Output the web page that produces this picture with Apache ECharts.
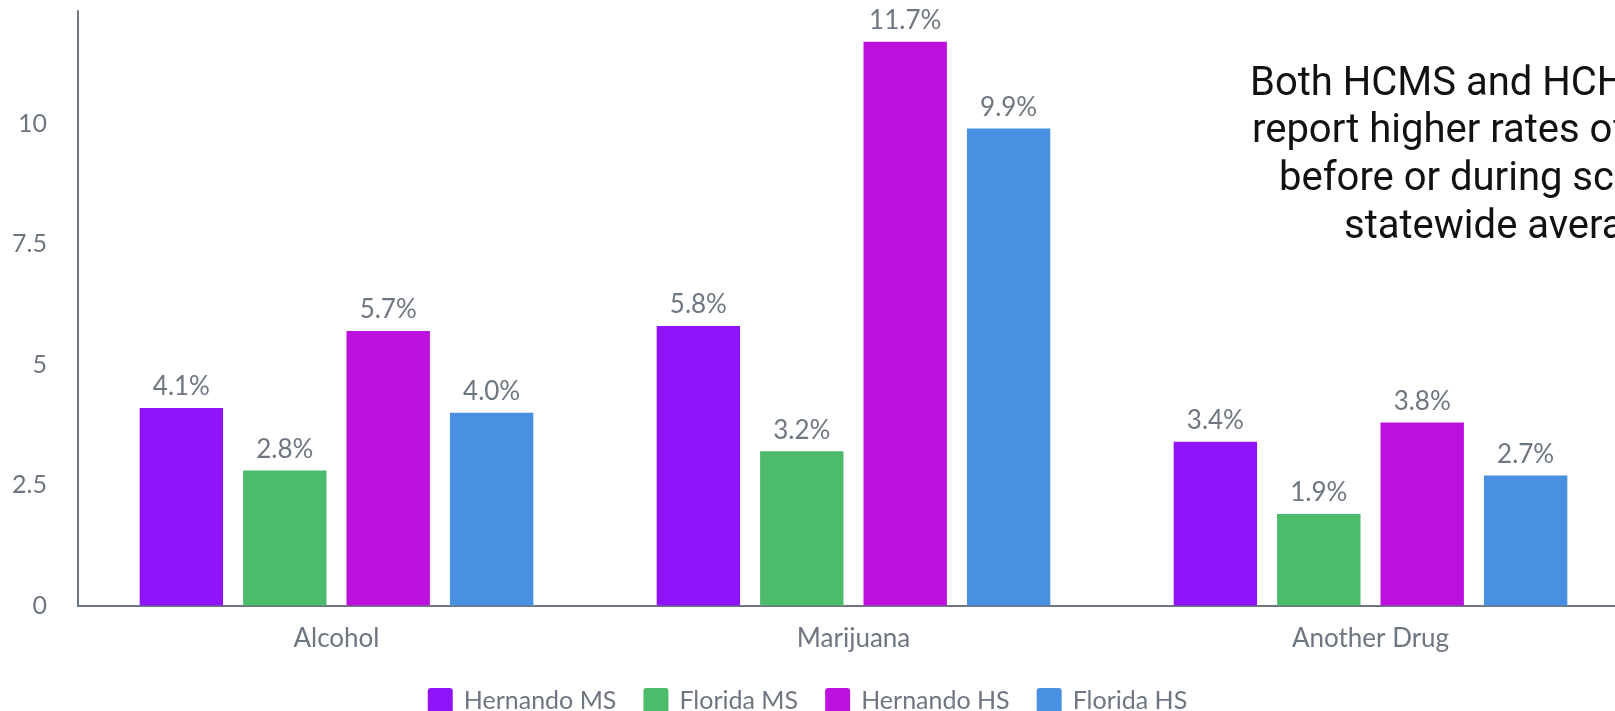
<!DOCTYPE html>
<html>
<head>
<meta charset="utf-8">
<script src="https://cdn.jsdelivr.net/npm/echarts@6/dist/echarts.min.js"></script>
<style>
  html, body { margin: 0; padding: 0; background: #ffffff; }
  #chart { width: 1615px; height: 711px; }
</style>
</head>
<body>
<div id="chart"></div>
<script>
const categories = ['Alcohol', 'Marijuana', 'Another Drug'];
const seriesNames = ['Hernando MS', 'Florida MS', 'Hernando HS', 'Florida HS'];
const hernandoMS = [4.1, 5.8, 3.4];
const floridaMS = [2.8, 3.2, 1.9];
const hernandoHS = [5.7, 11.7, 3.8];
const floridaHS = [4.0, 9.9, 2.7];
const colors = ['#8F14FB', '#4CBB6C', '#BC10DE', '#4A90E2'];
const annotationLines = [
  'Both HCMS and HCHS students',
  'report higher rates of drug use',
  'before or during school than the',
  'statewide average.'
];

const gray = '#6E7681';
const font = 'Lato';
const values = [hernandoMS, floridaMS, hernandoHS, floridaHS];
const iconPath = 'path://M3,0 H22 Q25,0 25,3 V22 Q25,25 22,25 H3 Q0,25 0,22 V3 Q0,0 3,0 Z';

const chart = echarts.init(document.getElementById('chart'), null, { renderer: 'canvas' });

const annX = [1250, 1252, 1279, 1344];
const annBase = [103, 150, 198, 246];

chart.setOption({
  animation: false,
  backgroundColor: '#ffffff',
  color: colors,
  grid: { left: 78, width: 1551, top: 11, height: 594.5, containLabel: false, outerBoundsMode: 'none' },
  legend: {
    top: 683,
    left: 'center',
    itemWidth: 25,
    itemHeight: 25,
    itemGap: 27,
    icon: iconPath,
    data: seriesNames,
    textStyle: { color: gray, fontFamily: font, fontSize: 25, padding: [0, 0, 0, 6] }
  },
  xAxis: {
    type: 'category',
    data: categories,
    axisLine: { show: true, lineStyle: { color: gray, width: 2 } },
    axisTick: { show: false },
    axisLabel: { color: gray, fontFamily: font, fontSize: 26, margin: 20 },
    splitLine: { show: false }
  },
  yAxis: {
    type: 'value',
    min: 0,
    max: 12.34,
    interval: 2.5,
    axisLine: { show: true, lineStyle: { color: gray, width: 2 } },
    axisTick: { show: false },
    splitLine: { show: false },
    axisLabel: { color: gray, fontFamily: font, fontSize: 25, margin: 31, showMaxLabel: false }
  },
  series: seriesNames.map((name, i) => ({
    name: name,
    type: 'bar',
    data: values[i],
    barWidth: 83.4,
    barGap: '24%',
    itemStyle: { color: colors[i] },
    label: {
      show: true,
      position: 'top',
      distance: 8,
      color: gray,
      fontFamily: font,
      fontSize: 26,
      formatter: p => p.value.toFixed(1) + '%'
    }
  })),
  graphic: annotationLines.map((t, i) => ({
    type: 'text',
    left: annX[i],
    top: annBase[i] - 38,
    style: { text: t, fill: '#111111', font: '40px Roboto', textAlign: 'left' }
  }))
});
</script>
</body>
</html>
